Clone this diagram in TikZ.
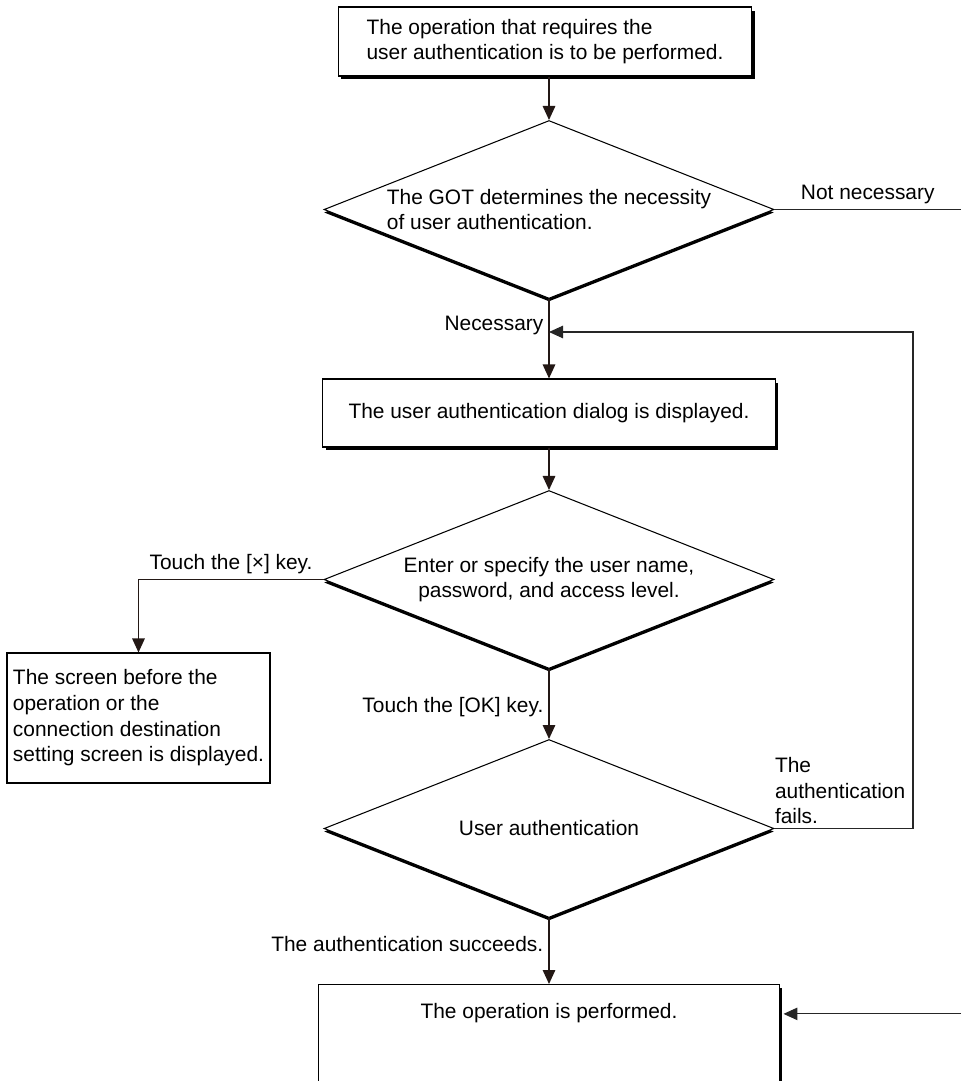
\documentclass[tikz,border=0pt]{standalone}
\usepackage{fontspec}
\setmainfont{Liberation Sans}
\usepackage{tikz}
\usetikzlibrary{shapes.geometric,shadows,arrows.meta}
\definecolor{arrowc}{RGB}{35,24,21}

\begin{document}
\begin{tikzpicture}[x=0.02cm, y=-0.02cm,
    font=\fontsize{11.9}{14.6}\selectfont,
    box/.style={rectangle, draw, fill=white, line width=0.6pt, align=left, inner sep=0pt},
    shade box/.style={box, drop shadow={shadow xshift=0.06cm, shadow yshift=-0.07cm, fill=black, opacity=1}},
    decision/.style={diamond, draw, fill=white, line width=0.6pt, aspect=2.5, inner sep=0pt,
        minimum width=9cm, minimum height=3.56cm,
        drop shadow={shadow xshift=0cm, shadow yshift=-0.06cm, fill=black, opacity=1}},
    arr/.style={draw=arrowc, line width=0.8pt, -{Triangle[length=0.28cm, width=0.25cm]}},
    link/.style={draw=black!85, line width=0.6pt},
    lbl/.style={inner sep=0.1cm}]

    \useasboundingbox (0,0) rectangle (961,1081);
    \clip (0,0) rectangle (961,1081);

    % Boxes
    \node[shade box, minimum width=8.28cm, minimum height=1.38cm] (start) at (545,41.5)
        {The operation that requires the\\user authentication is to be performed.};
    \node[shade box, minimum width=9.06cm, minimum height=1.36cm] (dialog) at (549,413)
        {The user authentication dialog is displayed.};
    \node[box, minimum width=5.26cm, minimum height=2.6cm] (back) at (138.5,718)
        {The screen before the\\operation or the\\connection destination\\setting screen is displayed.};
    \node[shade box, anchor=north, minimum width=9.22cm, text height=0.68cm, text depth=2.2cm] (done) at (549,984)
        {The operation is performed.};

    % Decisions
    \node[decision, align=left] (need) at (549,209.5)
        {The GOT determines the necessity\\of user authentication.};
    \node[decision, align=center] (login) at (549,579.5)
        {Enter or specify the user name,\\password, and access level.};
    \node[decision] (check) at (549,828.5) {User authentication};

    \coordinate (rim) at (961,0);
    \coordinate (loop) at (913,332);
    \coordinate (ret) at (549,332);

    \draw[arr] (need.north |- start.south) -- (need.north);
    \draw[link] (need.east) -- node[lbl, above] {Not necessary} (rim |- need.east);
    \draw[arr] (need.south) -- node[lbl, pos=0.33, anchor=east] {Necessary} (dialog.north);
    \draw[arr] (dialog.south) -- (login.north);
    \draw[arr] (login.west) -- node[lbl, above] {Touch the [×] key.} (back.north |- login.west) -- (back.north);
    \draw[arr] (login.south) -- node[lbl, pos=0.55, anchor=east] {Touch the [OK] key.} (check.north);
    \draw[arr, draw=black!85, line width=0.6pt] (check.east)
        node[anchor=south west, align=left, inner xsep=0pt, inner ysep=0.08cm] {The\\authentication\\fails.}
        -- (loop |- check.east) -- (loop) -- (ret);
    \draw[arr] (check.south) -- node[lbl, pos=0.4, anchor=east] {The authentication succeeds.} (done.north);
    \draw[arr, draw=black!85, line width=0.6pt] (rim |- done.mid east) -- ([xshift=0.07cm]done.mid east);
\end{tikzpicture}
\end{document}
